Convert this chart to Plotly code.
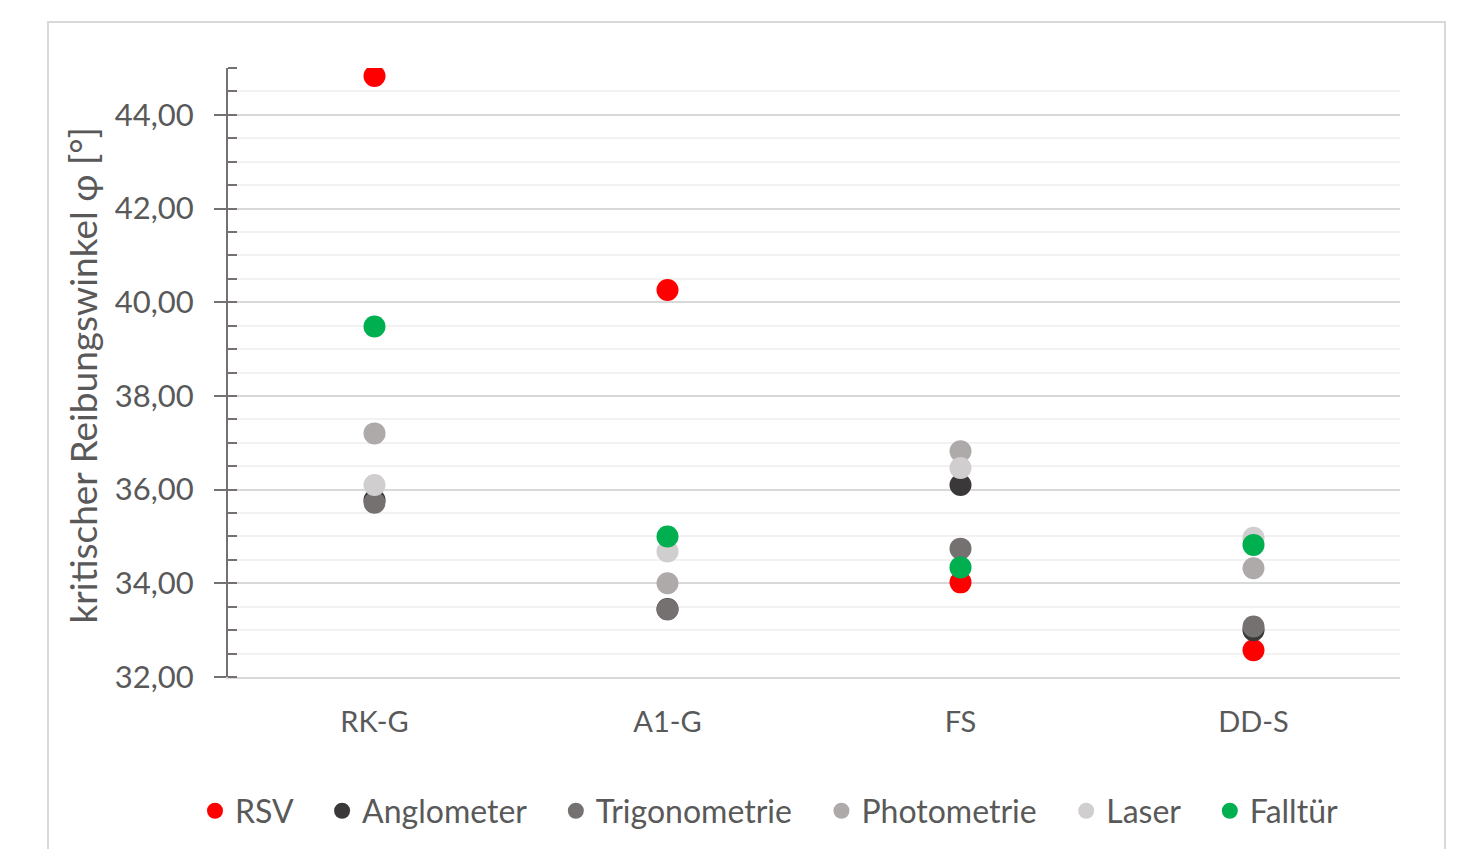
import plotly.graph_objects as go

categories = ["RK-G", "A1-G", "FS", "DD-S"]
series_names = ["RSV", "Anglometer", "Trigonometrie", "Photometrie", "Laser", "Falltür"]
rsv = [44.83, 40.26, 34.02, 32.57]
anglometer = [35.78, 33.45, 36.10, 33.00]
trigonometrie = [35.72, 33.44, 34.74, 33.08]
photometrie = [37.20, 34.00, 36.82, 34.32]
laser = [36.10, 34.68, 36.46, 34.97]
falltuer = [39.48, 35.00, 34.34, 34.82]
colors = ["#FF0000", "#3A3838", "#767171", "#AEAAAA", "#D0CECE", "#00B050"]

values = [rsv, anglometer, trigonometrie, photometrie, laser, falltuer]

fig = go.Figure()
pad = "\u00a0\u00a0\u00a0"
for i, (name, vals, col) in enumerate(zip(series_names, values, colors)):
    fig.add_trace(go.Scatter(
        x=categories, y=vals, mode="markers",
        name=name + (pad if i < len(series_names) - 1 else ""),
        marker=dict(color=col, size=22, line=dict(width=0)),
    ))

font_family = "Lato"
fig.update_layout(
    width=1470, height=849,
    paper_bgcolor="white", plot_bgcolor="white",
    margin=dict(l=228, r=70, t=68, b=171),
    separators=",.",
    font=dict(family=font_family, color="#595959", size=29),
    showlegend=True,
    legend=dict(orientation="h", x=0.4616, xanchor="center", y=-0.218, yanchor="middle",
                font=dict(size=32, color="#595959"), itemwidth=30, tracegroupgap=0,
                bgcolor="rgba(0,0,0,0)"),
    xaxis=dict(type="category", range=[-0.5, 3.5], showgrid=False,
               showline=True, linecolor="#D9D9D9", linewidth=2,
               ticks="", tickfont=dict(size=29, color="#595959"), ticklabelstandoff=18),
    yaxis=dict(range=[32, 45], dtick=2, tick0=32, tickformat=".2f",
               showgrid=True, gridcolor="#D9D9D9", gridwidth=2,
               showline=True, linecolor="#767171", linewidth=2,
               ticks="outside", ticklen=12, tickwidth=2, tickcolor="#767171",
               tickfont=dict(size=31, color="#595959"), ticklabelstandoff=14,
               minor=dict(dtick=0.5, showgrid=True, gridcolor="#F2F2F2", gridwidth=2,
                          ticks="inside", ticklen=9, tickwidth=2, tickcolor="#767171"),
               zeroline=False),
    annotations=[dict(text="kritischer Reibungswinkel φ [°]", xref="paper", yref="paper",
                      x=(82 - 228) / 1172, y=(678 - 376) / 610, xanchor="center", yanchor="middle",
                      textangle=-90, showarrow=False,
                      font=dict(size=37, color="#595959", family=font_family))],
    shapes=[dict(type="rect", xref="paper", yref="paper",
                 x0=-0.1536, x1=1.0384, y0=-0.35, y1=1.0754,
                 line=dict(color="#D9D9D9", width=2), fillcolor="rgba(0,0,0,0)", layer="below")],
)

fig.write_html("out.html")
